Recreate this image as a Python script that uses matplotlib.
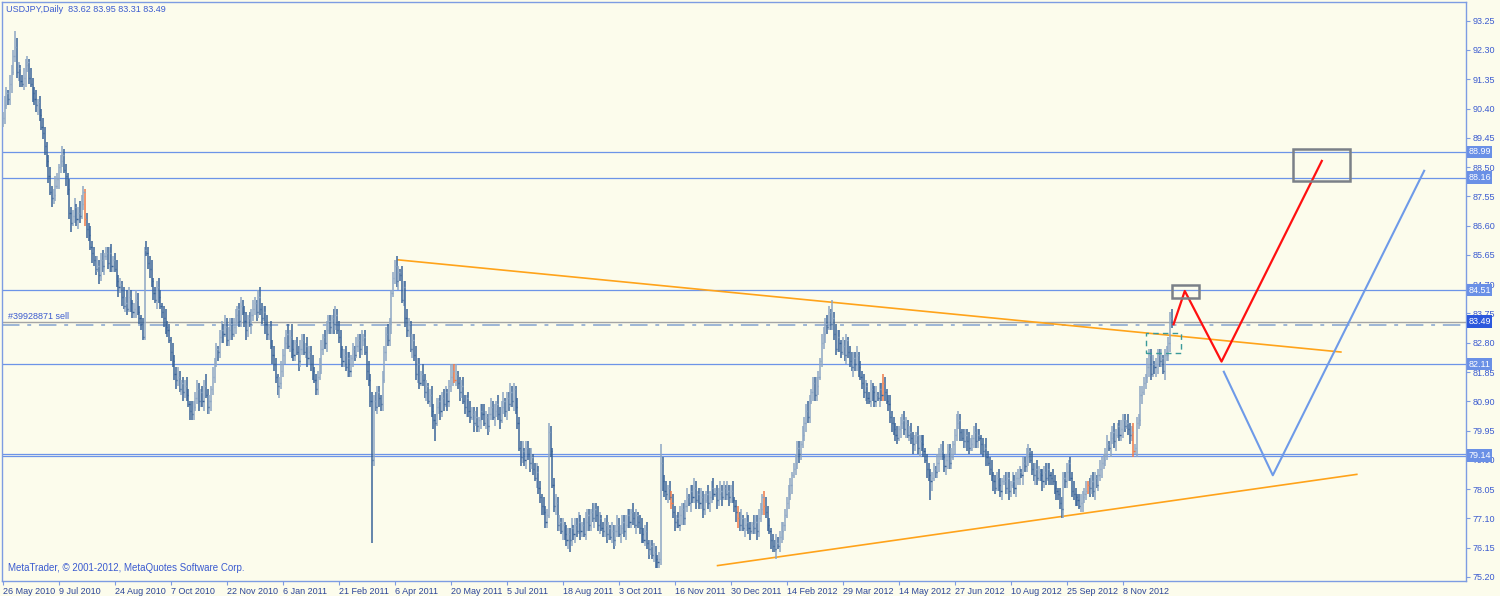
import numpy as np
import matplotlib.pyplot as plt
from matplotlib.patches import Rectangle

# USDJPY daily closes, bar 0 = 26 May 2010
closes = [
    90.1, 90.5, 90.9, 90.7, 91.2, 91.6, 92.1, 92.4, 91.6, 91.7,   # 0
    91.3, 91.2, 91.4, 91.8, 91.9, 91.4, 91.2, 90.9, 90.7, 90.5,
    90.6, 90.2, 89.8, 89.6, 89.2, 88.7, 88.2, 87.7, 87.5, 87.6,
    87.9, 88.1, 88.5, 88.7, 88.9, 88.4, 88.2, 87.8, 87.0, 86.7,
    86.9, 87.2, 86.8, 87.0, 86.9, 87.3, 87.7, 86.8, 86.5, 86.3,
    85.9, 85.7, 85.5, 85.2, 85.3, 85.0, 85.5, 85.3, 85.6, 85.7,   # 50
    85.4, 85.7, 85.3, 85.5, 85.2, 84.8, 84.6, 84.7, 84.3, 84.0,
    84.1, 83.9, 84.3, 84.1, 83.8, 83.9, 84.2, 83.8, 83.6, 83.4,
    83.0, 85.8, 85.7, 85.4, 85.2, 84.8, 84.4, 84.2, 84.6, 84.3,
    84.0, 83.8, 83.6, 83.3, 83.2, 82.9, 82.5, 82.2, 81.8, 81.6,
    81.7, 81.3, 81.5, 81.2, 81.4, 81.1, 80.8, 80.6, 80.5, 80.7,   # 100
    81.0, 81.3, 80.9, 81.2, 80.9, 81.4, 81.1, 80.7, 80.9, 81.3,
    81.7, 82.1, 82.6, 82.5, 83.0, 83.2, 83.1, 83.3, 82.9, 83.2,
    83.4, 83.1, 83.3, 83.7, 83.9, 83.5, 84.0, 83.8, 83.5, 83.2,
    83.6, 83.4, 83.7, 83.9, 84.1, 83.8, 84.3, 83.9, 83.6, 83.8,
    83.4, 83.1, 83.3, 82.7, 82.4, 82.1, 81.7, 81.4, 81.5, 81.9,   # 150
    82.4, 82.8, 83.1, 82.7, 83.0, 82.6, 82.4, 82.8, 82.5, 82.2,
    82.6, 82.9, 82.5, 82.7, 82.3, 82.5, 82.1, 81.9, 81.6, 81.3,
    81.7, 82.1, 82.6, 83.0, 82.8, 83.2, 83.5, 83.3, 83.6, 83.4,
    83.7, 83.2, 83.0, 82.6, 82.2, 82.4, 82.0, 82.3, 81.9, 82.3,
    82.6, 82.4, 82.7, 82.9, 82.6, 82.9, 83.0, 82.5, 81.9, 81.6,   # 200
    80.9, 79.0, 80.9, 80.7, 81.2, 81.0, 80.8, 81.6, 82.5, 83.1,
    82.9, 83.4, 84.4, 84.9, 85.3, 84.8, 85.1, 85.0, 84.2, 84.6,
    83.6, 83.2, 83.4, 82.6, 82.9, 82.4, 81.8, 82.1, 81.5, 81.8,
    81.6, 81.2, 81.4, 80.9, 81.1, 80.6, 80.3, 80.2, 80.7, 80.9,
    80.6, 81.0, 80.8, 81.2, 80.9, 81.4, 81.7, 81.9, 81.6, 81.8,   # 250
    81.5, 81.2, 81.4, 80.9, 80.7, 81.0, 80.6, 80.4, 80.5, 80.2,
    80.4, 80.1, 80.3, 80.6, 80.5, 80.2, 80.4, 80.1, 80.5, 80.7,
    80.4, 80.6, 80.8, 80.5, 80.3, 80.7, 80.9, 80.6, 81.0, 80.8,
    81.2, 80.9, 81.3, 80.7, 80.2, 79.4, 79.1, 79.3, 79.0, 79.4,
    79.2, 78.9, 79.1, 78.7, 78.4, 78.6, 78.1, 77.8, 77.5, 77.3,   # 300
    77.0, 77.2, 79.9, 79.3, 78.2, 77.5, 77.6, 76.9, 77.0, 76.7,
    76.9, 76.6, 76.4, 76.6, 76.4, 76.8, 76.6, 76.9, 76.7, 77.0,
    76.7, 76.9, 76.6, 77.0, 77.2, 76.9, 77.3, 77.1, 77.4, 77.2,
    76.9, 77.1, 76.8, 76.7, 76.9, 76.6, 76.8, 76.5, 76.7, 76.4,
    76.7, 76.9, 76.6, 76.8, 77.0, 76.7, 76.9, 77.2, 77.0, 77.3,   # 350
    77.1, 76.9, 77.2, 77.0, 76.8, 76.6, 76.4, 76.7, 76.3, 76.1,
    76.2, 75.9, 76.0, 75.8, 75.7, 75.8, 78.9, 78.3, 78.0, 77.9,
    78.1, 77.8, 77.6, 77.3, 77.0, 77.1, 76.9, 77.2, 77.4, 77.1,
    77.5, 77.8, 77.6, 78.0, 77.8, 78.1, 77.7, 77.9, 77.6, 77.8,
    77.4, 77.7, 77.9, 77.6, 77.8, 78.1, 77.9, 78.0, 77.7, 77.9,   # 400
    78.0, 77.8, 78.1, 77.9, 78.0, 77.8, 78.0, 77.7, 77.5, 77.3,
    77.1, 76.9, 77.1, 76.8, 76.9, 77.0, 76.8, 76.7, 76.9, 76.8,
    77.0, 76.7, 77.1, 77.4, 77.8, 77.5, 77.3, 76.9, 76.7, 76.4,
    76.2, 76.1, 76.3, 76.2, 76.5, 76.7, 76.9, 77.2, 77.6, 77.9,
    78.2, 78.5, 78.7, 78.9, 79.4, 79.2, 79.5, 79.8, 80.2, 80.6,   # 450
    80.4, 80.9, 81.2, 81.5, 81.1, 81.4, 81.7, 82.2, 82.8, 83.1,
    83.4, 83.3, 83.8, 83.4, 83.6, 83.1, 82.6, 83.0, 82.8, 82.5,
    82.7, 82.4, 82.9, 82.5, 82.2, 82.0, 82.3, 82.1, 82.4, 82.0,
    81.7, 81.5, 81.2, 81.4, 81.0, 80.9, 81.3, 81.2, 80.9, 81.1,
    81.0, 81.3, 81.1, 81.5, 81.2, 80.9, 80.8, 80.4, 80.2, 80.0,   # 500
    79.8, 79.7, 80.0, 80.2, 80.3, 80.0, 80.2, 79.8, 79.9, 79.7,
    79.5, 79.6, 79.8, 79.4, 79.6, 79.5, 79.3, 79.0, 78.7, 78.5,
    78.3, 78.4, 78.7, 78.6, 78.9, 79.2, 79.3, 79.1, 78.8, 79.0,
    79.3, 78.9, 79.1, 79.5, 79.8, 80.2, 80.3, 79.9, 79.7, 79.6,
    79.8, 79.6, 79.4, 79.5, 79.7, 79.9, 79.6, 79.8, 79.7, 79.5,   # 550
    79.3, 79.4, 79.1, 78.9, 78.7, 78.5, 78.3, 78.1, 78.4, 78.2,
    78.0, 78.3, 78.3, 78.1, 78.4, 78.0, 78.2, 78.3, 78.1, 78.4,
    78.4, 78.6, 78.5, 78.9, 78.8, 79.1, 79.3, 79.0, 78.7, 78.5,
    78.7, 78.4, 78.6, 78.5, 78.3, 78.6, 78.4, 78.7, 78.5, 78.4,
    78.3, 78.1, 78.0, 77.9, 77.6, 77.4, 78.4, 78.3, 78.6, 78.9,   # 600
    78.4, 78.0, 77.9, 77.8, 77.7, 77.5, 77.6, 77.8, 77.9, 78.0,
    78.2, 78.1, 78.3, 78.0, 78.4, 78.2, 78.5, 78.7, 78.9, 79.0,
    79.2, 79.5, 79.4, 79.7, 79.9, 79.6, 79.8, 80.1, 79.8, 80.0,
    80.3, 80.1, 80.2, 80.0, 79.8, 79.9, 79.3, 79.4, 80.2, 80.3,
    81.1, 81.2, 81.5, 81.7, 82.0, 82.4, 81.8, 82.1, 82.0, 82.1,   # 650
    82.4, 82.2, 82.3, 81.9, 82.4, 82.4, 82.8, 83.6, 83.49,
]

# wick above / below the bar body, in tenths of a yen
hi_wick = [
    2, 3, 2, 1, 3, 2, 2, 4, 3, 2, 1, 2, 3, 2, 2, 1, 3, 2, 2, 3, 1, 2, 2, 3, 2, 1, 2, 3, 2, 2,
    3, 2, 1, 2, 3, 2, 2, 1, 3, 2, 2, 3, 1, 2, 4, 3, 2, 1, 2, 2, 3, 2, 2, 1, 3, 2, 2, 3, 1, 2,
    2, 2, 3, 1, 2, 3, 2, 2, 1, 3, 2, 4, 3, 2, 1, 2, 3, 2, 2, 1, 2, 1, 3, 2, 2, 3, 1, 2, 2, 3,
    2, 1, 2, 3, 2, 2, 1, 3, 2, 2, 3, 2, 1, 2, 2, 3, 2, 1, 3, 2, 2, 3, 2, 1, 2, 2, 4, 2, 2, 1,
    3, 2, 2, 1, 2, 3, 2, 4, 3, 1, 2, 2, 3, 2, 1, 2, 3, 2, 2, 3, 1, 2, 2, 3, 2, 1, 2, 3, 2, 2,
    2, 3, 1, 2, 2, 3, 2, 1, 2, 3, 2, 2, 1, 3, 2, 4, 3, 1, 2, 2, 3, 2, 2, 1, 3, 2, 2, 3, 1, 2,
    2, 2, 3, 1, 2, 3, 2, 2, 1, 3, 3, 2, 3, 2, 1, 2, 3, 2, 2, 1, 2, 1, 3, 2, 2, 3, 1, 2, 2, 3,
    2, 2, 2, 3, 2, 2, 1, 3, 2, 2, 3, 2, 1, 2, 2, 3, 2, 1, 3, 2, 2, 3, 2, 1, 2, 2, 3, 2, 2, 1,
    3, 2, 2, 1, 2, 3, 2, 2, 3, 1, 2, 2, 3, 2, 1, 2, 4, 2, 2, 3, 1, 2, 2, 3, 2, 1, 2, 3, 2, 2,
    2, 3, 1, 2, 2, 3, 2, 1, 2, 3, 2, 2, 1, 3, 2, 2, 3, 1, 2, 2, 3, 2, 2, 1, 3, 2, 2, 3, 1, 2,
    2, 2, 3, 1, 2, 3, 2, 2, 1, 3, 2, 2, 3, 2, 1, 2, 3, 2, 2, 1, 2, 1, 3, 2, 2, 3, 1, 2, 2, 3,
    2, 1, 2, 3, 2, 2, 1, 3, 2, 2, 3, 2, 1, 2, 2, 3, 2, 1, 3, 2, 2, 3, 2, 1, 2, 2, 3, 2, 2, 1,
    3, 2, 2, 1, 2, 3, 2, 2, 3, 1, 2, 2, 3, 2, 1, 2, 3, 2, 2, 3, 1, 2, 2, 3, 2, 1, 2, 3, 2, 2,
    2, 3, 1, 2, 2, 3, 2, 1, 2, 3, 2, 2, 1, 3, 2, 2, 3, 1, 2, 2, 3, 2, 2, 1, 3, 2, 2, 3, 1, 2,
    2, 2, 3, 1, 2, 3, 2, 2, 1, 3, 2, 2, 3, 2, 1, 2, 3, 2, 2, 1, 2, 1, 3, 2, 2, 3, 1, 2, 2, 3,
    2, 1, 2, 3, 2, 2, 1, 3, 2, 2, 3, 2, 1, 2, 2, 3, 2, 1, 3, 2, 2, 3, 2, 1, 2, 2, 3, 2, 2, 1,
    3, 2, 2, 1, 2, 3, 2, 2, 3, 1, 2, 2, 3, 2, 1, 2, 3, 2, 2, 3, 1, 2, 2, 3, 2, 1, 2, 3, 2, 2,
    2, 3, 1, 2, 2, 3, 2, 1, 2, 3, 2, 2, 1, 3, 2, 2, 3, 1, 2, 2, 3, 2, 2, 1, 3, 2, 2, 3, 1, 2,
    2, 2, 3, 1, 2, 3, 2, 2, 1, 3, 2, 2, 3, 2, 1, 2, 3, 2, 2, 1, 2, 1, 3, 2, 2, 3, 1, 2, 2, 3,
    2, 1, 2, 3, 2, 2, 1, 3, 2, 2, 3, 2, 1, 2, 2, 3, 2, 1, 3, 2, 2, 3, 2, 1, 2, 2, 3, 2, 2, 1,
    3, 2, 2, 1, 2, 3, 2, 2, 3, 1, 2, 2, 3, 2, 1, 2, 3, 2, 2, 3, 1, 2, 2, 3, 2, 1, 2, 3, 2, 2,
    2, 3, 1, 2, 2, 3, 2, 1, 2, 3, 2, 2, 1, 3, 2, 2, 3, 1, 2, 2, 3, 2, 2, 1, 3, 2, 2, 3, 1, 2,
    2, 2, 3, 1, 2, 3, 2, 2, 3,
]
lo_wick = [
    3, 2, 1, 2, 2, 3, 1, 2, 2, 3, 2, 1, 2, 3, 2, 2, 1, 3, 2, 2, 3, 2, 1, 2, 3, 2, 2, 1, 3, 2,
    2, 1, 3, 2, 2, 1, 3, 2, 2, 3, 1, 2, 2, 3, 2, 1, 2, 2, 3, 2, 1, 3, 2, 2, 1, 3, 2, 2, 3, 1,
    2, 3, 2, 2, 1, 2, 3, 2, 3, 1, 2, 2, 1, 3, 2, 2, 3, 1, 2, 2, 3, 2, 1, 2, 3, 2, 2, 1, 3, 2,
    1, 2, 3, 2, 2, 1, 3, 2, 2, 3, 2, 1, 2, 3, 2, 2, 1, 3, 2, 2, 1, 2, 3, 2, 2, 3, 1, 2, 2, 3,
    2, 2, 1, 3, 2, 2, 3, 1, 2, 2, 3, 2, 1, 2, 3, 2, 2, 1, 2, 3, 2, 1, 3, 2, 2, 3, 1, 2, 2, 1,
    3, 2, 2, 1, 3, 2, 2, 3, 1, 2, 2, 3, 2, 1, 2, 3, 2, 2, 1, 3, 2, 2, 1, 2, 3, 2, 2, 3, 1, 2,
    2, 1, 3, 2, 2, 3, 1, 2, 2, 3, 2, 1, 2, 3, 2, 2, 1, 3, 2, 2, 3, 2, 1, 2, 3, 2, 2, 1, 3, 2,
    2, 3, 2, 1, 2, 3, 2, 2, 1, 3, 2, 2, 3, 1, 2, 2, 3, 2, 1, 2, 3, 2, 2, 1, 3, 2, 2, 3, 2, 1,
    2, 2, 3, 1, 2, 2, 3, 2, 1, 2, 3, 2, 2, 1, 3, 2, 2, 3, 1, 2, 2, 3, 2, 1, 2, 3, 2, 2, 1, 3,
    1, 2, 2, 3, 2, 1, 2, 3, 2, 2, 1, 3, 2, 2, 3, 1, 2, 2, 3, 2, 1, 2, 3, 2, 2, 1, 3, 2, 2, 3,
    2, 3, 2, 2, 1, 3, 2, 2, 3, 1, 2, 2, 3, 2, 1, 2, 3, 2, 2, 1, 3, 2, 2, 3, 1, 2, 2, 3, 2, 1,
    3, 2, 1, 2, 3, 2, 2, 1, 3, 2, 2, 3, 1, 2, 2, 3, 2, 1, 2, 3, 2, 2, 1, 3, 2, 2, 3, 1, 2, 2,
    2, 1, 3, 2, 2, 3, 1, 2, 2, 3, 2, 1, 2, 3, 2, 2, 1, 3, 2, 2, 3, 1, 2, 2, 3, 2, 1, 2, 3, 2,
    2, 2, 1, 3, 2, 2, 3, 1, 2, 2, 3, 2, 1, 2, 3, 2, 2, 1, 3, 2, 2, 3, 1, 2, 2, 3, 2, 1, 2, 3,
    3, 2, 2, 1, 3, 2, 2, 3, 1, 2, 2, 3, 2, 1, 2, 3, 2, 2, 1, 3, 2, 2, 3, 1, 2, 2, 3, 2, 1, 2,
    2, 3, 1, 2, 2, 3, 2, 1, 2, 3, 2, 2, 1, 3, 2, 2, 3, 1, 2, 2, 3, 2, 1, 2, 3, 2, 2, 1, 3, 2,
    1, 2, 3, 2, 2, 1, 3, 2, 2, 3, 1, 2, 2, 3, 2, 1, 2, 3, 2, 2, 1, 3, 2, 2, 3, 1, 2, 2, 3, 2,
    2, 2, 1, 3, 2, 2, 3, 1, 2, 2, 3, 2, 1, 2, 3, 2, 2, 1, 3, 2, 2, 3, 1, 2, 2, 3, 2, 1, 2, 3,
    3, 2, 2, 1, 3, 2, 2, 3, 1, 2, 2, 3, 2, 1, 2, 3, 2, 2, 1, 3, 2, 2, 3, 1, 2, 2, 3, 2, 1, 2,
    2, 3, 1, 2, 2, 3, 2, 1, 2, 3, 2, 2, 1, 3, 2, 2, 3, 1, 2, 2, 3, 2, 1, 2, 3, 2, 2, 1, 3, 2,
    1, 2, 3, 2, 2, 1, 3, 2, 2, 3, 1, 2, 2, 3, 2, 1, 2, 3, 2, 2, 1, 3, 2, 2, 3, 1, 2, 2, 3, 2,
    2, 2, 1, 3, 2, 2, 3, 1, 2, 2, 3, 2, 1, 2, 3, 2, 2, 1, 3, 2, 2, 3, 1, 2, 2, 3, 2, 1, 2, 3,
    3, 2, 2, 1, 3, 2, 2, 3, 2,
]
# bars with long tails (intervention days, swing highs / lows): bar -> (hi, lo) in tenths
wick_fix = {7: (5, 2), 34: (3, 2), 80: (2, 1), 81: (1, 1), 146: (2, 2), 158: (2, 4),
            190: (3, 2), 211: (3, 27), 224: (2, 2), 247: (2, 6), 312: (3, 1), 324: (2, 4),
            376: (6, 2), 441: (2, 1), 474: (6, 2), 530: (2, 6), 546: (3, 2), 605: (2, 3),
            668: (3, 2)}
orange_bars = [47, 258, 382, 420, 435, 503, 620, 646]

date_labels = ["26 May 2010", "9 Jul 2010", "24 Aug 2010", "7 Oct 2010", "22 Nov 2010",
               "6 Jan 2011", "21 Feb 2011", "6 Apr 2011", "20 May 2011", "5 Jul 2011",
               "18 Aug 2011", "3 Oct 2011", "16 Nov 2011", "30 Dec 2011", "14 Feb 2012",
               "29 Mar 2012", "14 May 2012", "27 Jun 2012", "10 Aug 2012", "25 Sep 2012",
               "8 Nov 2012"]
bars_per_label = 32
price_ticks = [93.25, 92.30, 91.35, 90.40, 89.45, 88.50, 87.55, 86.60, 85.65, 84.70,
               83.75, 82.80, 81.85, 80.90, 79.95, 79.00, 78.05, 77.10, 76.15, 75.20]
level_lines = [88.99, 88.16, 84.51, 82.11, 79.19, 79.14]
level_labels = [88.99, 88.16, 84.51, 82.11, 79.14]
bid = 83.49
order_price = 83.39

# drawn objects (bar index, price)
upper_trend = ([225.9, 764.6], [85.49, 82.50])
lower_trend = ([408.4, 773.7], [75.57, 78.53])
red_path = ([669.0, 675.4, 696.4, 753.7], [83.40, 84.48, 82.19, 88.70])
blue_path = ([697.7, 725.7, 812.2], [81.86, 78.50, 88.38])
target_boxes = [(737.5, 88.06, 32.2, 1.03), (668.0, 84.25, 15.4, 0.43)]
entry_box = (653.1, 82.48, 20.4, 0.65)

bg = '#fcfcec'
frame = '#7d9ce2'
txt = '#3b5bd0'
font = 'Liberation Sans'

fig = plt.figure(figsize=(15, 5.96), dpi=100, facecolor=bg)
ax = fig.add_axes([2 / 1500, 15 / 596, 1464 / 1500, 579 / 596], facecolor=bg)

c = np.array(closes)
o = np.r_[c[0], c[:-1]]
hw = np.array(hi_wick, dtype=float) / 10
lw = np.array(lo_wick, dtype=float) / 10
for b, (h, l) in wick_fix.items():
    hw[b] = h / 10
    lw[b] = l / 10
hi = np.maximum(o, c) + hw
lo = np.minimum(o, c) - lw
x = np.arange(len(c))
cols = np.where(c >= o, '#8ea7c4', '#3a6499').astype(object)
for b in orange_bars:
    cols[b] = '#f07a4a'

for lev in level_lines:
    ax.axhline(lev, color='#6c94e8', lw=0.9, zorder=1)
ax.axhline(bid, color='#a4a4a4', lw=1.0, zorder=1)
ax.axhline(order_price, color='#9cb6d6', lw=1.4, ls=(0, (9, 4, 2, 4)), zorder=1)
ax.text(3, bid + 0.02, '#39928871 sell', color=txt, fontsize=6.5, family=font,
        va='bottom', ha='left')

ax.plot(*upper_trend, color='#ffa31a', lw=1.2, zorder=2)
ax.plot(*lower_trend, color='#ffa31a', lw=1.2, zorder=2)

ax.vlines(x, lo, hi, colors=list(cols), lw=1.1, zorder=3)
ax.hlines(c, x, x + 0.7, colors=list(cols), lw=1.0, zorder=3)

ax.plot(*red_path, color='#ff1010', lw=1.6, zorder=4)
ax.plot(*blue_path, color='#6e9ae8', lw=1.5, zorder=4)
for bx, by, bw, bh in target_boxes:
    ax.add_patch(Rectangle((bx, by), bw, bh, fill=False, ec='#7a8088', lw=1.8, zorder=4))
ax.add_patch(Rectangle(entry_box[:2], entry_box[2], entry_box[3], fill=False,
                       ec='#3a9a9a', lw=1.0, ls=(0, (4, 3)), zorder=4))

ax.set_xlim(-0.5, 836.1)
ax.set_ylim(75.07, 93.857)

ax.yaxis.tick_right()
ax.set_yticks(price_ticks)
ax.set_yticklabels([f'{p:.2f}' for p in price_ticks])
ax.tick_params(axis='y', length=3, width=0.8, pad=2, color=frame, labelcolor=txt,
               labelsize=6.5)
for lab in ax.get_yticklabels():
    lab.set_family(font)

ytr = ax.get_yaxis_transform()
for lev in level_labels:
    ax.text(1.0015, lev, f'{lev:.2f}', transform=ytr, color='white', fontsize=6.5,
            family=font, va='center', ha='left', zorder=6, clip_on=False,
            bbox=dict(boxstyle='square,pad=0.18', fc='#6a90e6', ec='none'))
ax.text(1.0015, bid, f'{bid:.2f}', transform=ytr, color='white', fontsize=6.5,
        family=font, va='center', ha='left', zorder=7, clip_on=False,
        bbox=dict(boxstyle='square,pad=0.18', fc='#2c58dc', ec='none'))

ax.set_xticks([k * bars_per_label for k in range(len(date_labels))])
ax.set_xticklabels(date_labels, ha='left')
ax.tick_params(axis='x', length=3, width=0.8, pad=1, color=frame, labelcolor='#2b4599',
               labelsize=6.5)
for lab in ax.get_xticklabels():
    lab.set_family(font)

for sp in ax.spines.values():
    sp.set_color(frame)
    sp.set_linewidth(1.0)

fig.text(6 / 1500, 1 - 9 / 596, 'USDJPY,Daily  83.62 83.95 83.31 83.49', color=txt,
         fontsize=6.5, family=font, va='center', ha='left')
ax.text(3, 75.32, 'MetaTrader, \u00a9 2001-2012, MetaQuotes Software Corp.', color=txt,
        fontsize=7, family=font, va='bottom', ha='left')

fig.savefig('out.png', dpi=100, facecolor=bg)
